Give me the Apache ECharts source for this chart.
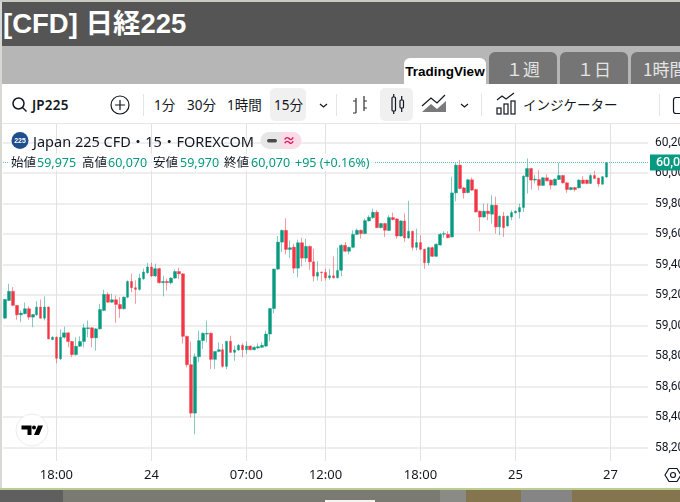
<!DOCTYPE html>
<html>
<head>
<meta charset="utf-8">
<title>[CFD] 日経225</title>
<script src="https://cdn.jsdelivr.net/npm/echarts@6/dist/echarts.min.js"></script>
<style>
    html,body{margin:0;padding:0;}
    body{width:680px;height:502px;overflow:hidden;position:relative;background:#fff;
        font-family:"Noto Sans","Noto Sans CJK JP",sans-serif;color:#131722;}
    .abs{position:absolute;white-space:nowrap;}
    .tab{position:absolute;top:52px;height:32px;width:68px;background:#757575;border-radius:6px 6px 0 0;
        color:#e4e4e4;font-size:17px;line-height:34px;text-align:center;font-family:"Noto Sans CJK JP",sans-serif;}
    .tool{position:absolute;top:96px;font-size:13.5px;line-height:18px;white-space:nowrap;}
    .sep{position:absolute;top:94px;width:1px;height:22px;background:#e4e4e4;}
    #main{position:absolute;left:0;top:0;width:680px;height:502px;}
    .ohlc{position:absolute;top:154px;left:9px;height:17px;line-height:17px;font-size:12.5px;white-space:nowrap;background:rgba(255,255,255,.75);padding:0 2px;}
    .ohlc span{position:absolute;top:0;}
    .up{color:#089981;}
</style>
</head>
<body>
<!-- ページ枠 -->
<div class="abs" style="left:0;top:0;width:680px;height:2px;background:#cacac3"></div>
<div class="abs" style="left:2px;top:2px;width:678px;height:44px;background:#555"></div>
<div class="abs" style="left:0;top:2px;width:2px;height:486px;background:#d8d8d4"></div>
<div class="abs" style="left:2px;top:46px;width:678px;height:38px;background:#b6b6b6"></div>
<div class="abs" style="left:3px;top:5px;font:700 27.5px/38px 'Liberation Sans','Noto Sans CJK JP',sans-serif;color:#fff">[CFD] 日経225</div>

<div class="abs" style="left:404px;top:58px;width:82px;height:26px;background:#fff;border-radius:6px 6px 0 0;text-align:center;font:700 13.5px/28px 'Liberation Sans',sans-serif;color:#000">TradingView</div>
<div class="tab" style="left:489px">１週</div>
<div class="tab" style="left:560px">１日</div>
<div class="tab" style="left:631px;width:60px;text-align:left;padding-left:12px;">1時間</div>

<!-- ツールバー -->
<div class="abs" style="left:270px;top:88px;width:36px;height:33px;background:#f0f0f0;border-radius:5px"></div>
<div class="abs" style="left:380px;top:88px;width:33px;height:33px;background:#f0f0f0;border-radius:5px"></div>
<svg class="abs" style="left:0;top:86px" width="680" height="38" fill="none" stroke="#131722" stroke-width="1.2">
    <circle cx="18.5" cy="17.5" r="5.5" stroke-width="1.5"/><path d="M22.5 21.5l4 4" stroke-width="1.5"/>
    <circle cx="120" cy="19" r="9"/><path d="M120 14v10M115 19h10"/>
    <path d="M320 18l3.5 3 3.5-3" />
    <path d="M356 12v15M353 27h3M353 15h3M364 10v15M364 15h3M364 22h3" stroke="#333"/>
    <rect x="392" y="11" width="3.5" height="14" rx="1"/><path d="M393.7 8v3M393.7 25v3"/>
    <rect x="400" y="14" width="3.5" height="8" rx="1"/><path d="M401.7 10v4M401.7 22v4"/>
    <path d="M422 26l9-8 6 5 9-8v11z" fill="#7a7a7a" stroke="none"/><path d="M422 20l9-8 6 5 8-8" />
    <path d="M461 18l3.5 3 3.5-3"/>
    <rect x="497" y="22" width="4" height="6"/><rect x="504" y="18" width="4" height="10"/><rect x="511" y="15" width="4" height="13"/>
    <path d="M497 14l5-4 4 3 8-6"/>
    <rect x="673.5" y="11.5" width="12" height="16" rx="2.5"/>
</svg>
<div class="tool" style="left:32px;font-weight:600;letter-spacing:.2px">JP225</div>
<div class="sep" style="left:143px"></div>
<div class="tool" style="left:154px">1分</div>
<div class="tool" style="left:187px">30分</div>
<div class="tool" style="left:227px">1時間</div>
<div class="tool" style="left:274px">15分</div>
<div class="sep" style="left:336px"></div>
<div class="sep" style="left:481px"></div>
<div class="tool" style="left:523px;font-size:13.5px">インジケーター</div>
<div class="sep" style="left:659px"></div>
<div class="abs" style="left:2px;top:123px;width:678px;height:1px;background:#e6e6e6"></div>

<!-- 下端 -->
<div class="abs" style="left:0;top:488px;width:680px;height:2px;background:#b9cf8f"></div>
<div class="abs" style="left:0;top:490px;width:680px;height:12px;background:#7a7a72"></div>
<div class="abs" style="left:0;top:490px;width:63px;height:12px;background:#5f5f5f"></div>
<div class="abs" style="left:440px;top:490px;width:26px;height:12px;background:#8a8a86"></div>
<div class="abs" style="left:466px;top:490px;width:55px;height:12px;background:#84754e"></div>
<div class="abs" style="left:521px;top:490px;width:51px;height:12px;background:#858585"></div>
<div class="abs" style="left:572px;top:490px;width:108px;height:12px;background:#84754e"></div>
<div class="abs" style="left:325px;top:500px;width:50px;height:2px;background:#f4f4f4"></div>

<div id="main"></div>

<!-- 凡例 -->
<svg class="abs" style="left:0;top:124px" width="310" height="30">
    <circle cx="20" cy="16.5" r="8.5" fill="#1f4e8c"/>
    <text x="20" y="19" text-anchor="middle" font-size="7" font-weight="700" fill="#fff" font-family="Liberation Sans">225</text>
    <path d="M269 8h12v17h-12a8.5 8.5 0 0 1 0-17z" fill="#e6e6e6"/>
    <path d="M281 8h12a8.5 8.5 0 0 1 0 17h-12z" fill="#fbdbe6"/>
    <rect x="267" y="15" width="10" height="3.5" rx="1.7" fill="#4a4a4a"/>
    <text x="289" y="20.5" text-anchor="middle" font-size="13" font-weight="700" fill="#d81b60">≈</text>
</svg>
<div class="abs" style="left:33px;top:131px;font-size:14.5px;line-height:20px">Japan 225 CFD・15・FOREXCOM</div>
<div class="ohlc" id="ohlc" style="width:362px"></div>

<!-- TradingViewロゴ -->
<svg class="abs" style="left:15px;top:413px" width="34" height="34">
    <circle cx="17" cy="17" r="16" fill="#fff" stroke="#ececec"/>
    <path d="M6.5 12.5h10v9.5h-4v-5.5h-6zM19 16.5a2 2 0 1 0 0-4 2 2 0 0 0 0 4zM23 12.5h5l-4 9.5h-5z" fill="#000"/>
</svg>

<!-- 右下のアイコン -->
<svg class="abs" style="left:664px;top:466px" width="16" height="18" fill="none" stroke="#131722" stroke-width="1.2">
    <path d="M1 9l4-6.5h8l4 6.5-4 6.5h-8z"/><circle cx="9" cy="9" r="2.5"/>
</svg>

<script type="text/javascript">
    // 15分足 JP225（画面から読み取った値）
    var opens = [59049,59165,59225,59133,59071,59078,59111,59056,59071,59122,
        59049,59122,58909,58924,58782,58924,58953,58896,58810,58865,
        58896,58980,58986,58920,58979,59100,59205,59154,59170,59139,
        59111,59187,59290,59249,59238,59308,59347,59385,59326,59374,
        59282,59290,59281,59312,59355,59340,58930,58744,58426,58796,
        58902,58945,58950,58779,58831,58842,58733,58897,58825,58840,
        58871,58842,58866,58842,58853,58858,58866,58945,59112,59371,
        59548,59625,59500,59515,59377,59544,59443,59520,59419,59325,
        59351,59349,59314,59327,59314,59363,59527,59488,59514,59599,
        59626,59604,59687,59709,59744,59643,59670,59624,59709,59700,
        59588,59687,59575,59619,59514,59545,59501,59413,59512,59455,
        59529,59600,59599,59582,59871,60053,59904,59873,59957,59893,
        59751,59713,59751,59731,59790,59648,59718,59654,59713,59740,
        59746,59775,59977,60031,59955,59959,59920,59970,59955,59922,
        59959,59985,59937,59893,59906,59904,59955,59955,59933,59985,
        59968,59928,59975];
    var closes = [59172,59225,59133,59071,59082,59111,59056,59073,59122,59049,
        59122,58913,58924,58786,58924,58953,58896,58810,58865,58896,
        58986,58986,58920,58979,59106,59205,59154,59170,59139,59111,
        59187,59290,59249,59238,59312,59352,59385,59326,59374,59282,
        59290,59282,59312,59355,59340,58930,58744,58426,58796,58902,
        58950,58950,58779,58831,58842,58733,58897,58825,58840,58871,
        58842,58866,58842,58858,58862,58871,58945,59112,59371,59548,
        59625,59500,59511,59377,59544,59443,59520,59419,59325,59349,
        59347,59314,59327,59314,59362,59527,59488,59514,59599,59626,
        59604,59689,59711,59744,59643,59670,59626,59709,59696,59588,
        59687,59575,59619,59514,59545,59501,59413,59512,59455,59534,
        59599,59604,59577,59871,60053,59900,59871,59957,59889,59746,
        59713,59751,59735,59790,59648,59718,59643,59718,59742,59751,
        59775,59981,60031,59955,59961,59920,59970,59950,59922,59961,
        59985,59937,59893,59906,59893,59955,59933,59933,59985,59966,
        59930,59977,60070];
    var lows = [59045,59160,59130,59038,59023,59075,59038,58990,59065,59045,
        59034,58910,58905,58753,58775,58915,58858,58793,58805,58860,
        58858,58924,58858,58836,58975,59095,59150,59150,59019,59051,
        59105,59180,59220,59143,59230,59300,59340,59320,59320,59275,
        59192,59231,59270,59308,59307,58884,58726,58397,58287,58759,
        58847,58891,58715,58715,58825,58725,58715,58820,58770,58835,
        58792,58814,58838,58838,58848,58855,58860,58897,59081,59365,
        59483,59467,59445,59344,59318,59388,59417,59366,59290,59296,
        59290,59296,59301,59310,59310,59323,59485,59468,59510,59595,
        59571,59600,59683,59700,59640,59638,59582,59620,59690,59571,
        59583,59549,59570,59494,59494,59495,59373,59395,59450,59450,
        59525,59577,59573,59578,59816,59895,59834,59868,59885,59742,
        59619,59708,59691,59670,59604,59593,59582,59650,59691,59736,
        59702,59746,59867,59893,59933,59889,59916,59946,59893,59917,
        59955,59932,59871,59888,59880,59900,59928,59928,59930,59962,
        59911,59924,59970];
    var highs = [59175,59275,59253,59135,59100,59152,59126,59075,59159,59172,
        59192,59125,58930,58930,58975,58994,58955,58900,58924,58930,
        59012,59034,58990,58985,59143,59236,59220,59210,59198,59187,
        59192,59297,59341,59297,59341,59374,59413,59413,59407,59380,
        59326,59308,59318,59369,59380,59345,58935,58895,58818,58967,
        58955,59033,58955,58785,58891,58880,58900,58934,58869,58880,
        58884,58897,58870,58865,58884,58891,58967,59115,59375,59588,
        59630,59705,59559,59537,59564,59577,59570,59525,59505,59423,
        59355,59373,59373,59454,59511,59535,59549,59518,59626,59637,
        59630,59702,59724,59768,59757,59675,59675,59724,59742,59705,
        59692,59735,59819,59623,59637,59593,59505,59518,59518,59540,
        59608,59619,59619,59977,60069,60086,59910,59962,59972,59898,
        59755,59801,59801,59856,59845,59723,59746,59723,59757,59756,
        59801,59986,60097,60036,59988,60020,59975,59994,59960,59966,
        60069,59990,59942,59910,59910,59960,59981,59960,59998,60016,
        59972,59982,60070];

    var tickIndex = [13,37,61,81,105,129,153];
    var tickText = ['18:00','24','07:00','12:00','18:00','25','27'];
    var priceTicks = [58200,58400,58600,58800,59000,59200,59400,59600,59800,60000,60200];
    var slotCount = 163;   // 右側の余白を含むバー数

    var UP = '#089981', DOWN = '#F23645';

    function fmt(v){ return v.toLocaleString('en-US'); }

    var categories = [];
    for(var i=0;i<slotCount;i++){
        categories.push(String(i));
    }
    var wickData = [], bodyData = [];
    for(var i=0;i<opens.length;i++){
        wickData.push([opens[i],closes[i],lows[i],highs[i]]);
        bodyData.push([opens[i],closes[i],Math.min(opens[i],closes[i]),Math.max(opens[i],closes[i])]);
    }
    var last = opens.length-1;
    var isTick = function(index){ return tickIndex.indexOf(index)>=0; };

    // 凡例の始値・高値・安値・終値
    var parts = [
        [2,'始値',''],[28,fmt(opens[last]),'up'],[73,'高値',''],[99,fmt(highs[last]),'up'],
        [144,'安値',''],[171,fmt(lows[last]),'up'],[215,'終値',''],[242,fmt(closes[last]),'up'],
        [286,'+95 (+0.16%)','up']
    ];
    var html = '';
    for(var i=0;i<parts.length;i++){
        html += '<span class="'+parts[i][2]+'" style="left:'+parts[i][0]+'px">'+parts[i][1]+'</span>';
    }
    document.getElementById('ohlc').innerHTML = html;

    var myChart = echarts.init(document.getElementById('main'));
    var font = '"Noto Sans","Noto Sans CJK JP",sans-serif';

    var option = {
        animation: false,
        grid: { left: 3, right: 32, top: 124, bottom: 41, outerBoundsMode: 'none' },
        xAxis: {
            type: 'category',
            data: categories,
            boundaryGap: true,
            axisLine: { show: false },
            axisTick: { show: false, alignWithLabel: true, interval: function(i){ return isTick(i); } },
            axisLabel: {
                interval: function(i){ return isTick(i); },
                formatter: function(v,i){ return tickText[tickIndex.indexOf(i)]; },
                color: '#131722', fontSize: 13, fontFamily: font, margin: 8
            },
            splitLine: {
                show: true, alignWithLabel: true,
                interval: function(i){ return isTick(i); },
                lineStyle: { color: '#e2e2e2', width: 1 }
            }
        },
        yAxis: {
            type: 'value',
            position: 'right',
            min: 58112,
            max: 60323,
            axisLine: { show: false },
            axisTick: { show: false, customValues: priceTicks },
            axisLabel: {
                customValues: priceTicks,
                formatter: function(v){ return fmt(v); },
                color: '#131722', fontSize: 12, fontFamily: 'Roboto', margin: 7
            },
            splitLine: { show: true, lineStyle: { color: '#e9e9e9', width: 1.5 } }
        },
        series: [
            {
                name: 'wick',
                type: 'candlestick',
                data: wickData,
                barWidth: 1,
                itemStyle: {
                    color: 'rgba(8,153,129,0.5)', color0: 'rgba(242,54,69,0.5)',
                    borderColor: 'rgba(8,153,129,0.5)', borderColor0: 'rgba(242,54,69,0.5)',
                    borderWidth: 1
                },
                markLine: {
                    silent: true,
                    symbol: 'none',
                    data: [{ yAxis: closes[last] }],
                    lineStyle: { color: '#5cc4b0', type: 'dotted', width: 1 },
                    label: {
                        position: 'end', distance: 2,
                        formatter: function(){ return fmt(closes[last]); },
                        backgroundColor: UP, color: '#fff', fontWeight: 500,
                        fontSize: 12.5, fontFamily: 'Roboto',
                        padding: [2,8,1,6]
                    }
                }
            },
            {
                name: 'body',
                type: 'candlestick',
                data: bodyData,
                barWidth: 3.2,
                itemStyle: {
                    color: UP, color0: DOWN,
                    borderColor: UP, borderColor0: DOWN,
                    borderWidth: 0.4
                }
            }
        ]
    };

    myChart.setOption(option);
</script>
</body>
</html>
